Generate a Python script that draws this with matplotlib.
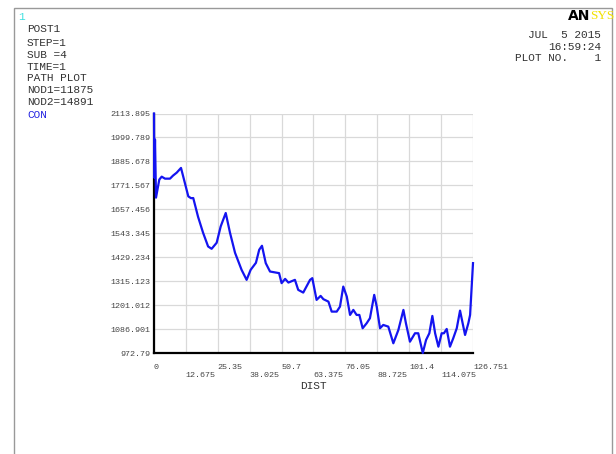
import matplotlib
matplotlib.use("Agg")
import matplotlib.pyplot as plt
import numpy as np

# path plot values (DIST, CON)
dist = [0.0, 0.12, 0.4, 0.8, 2.1, 3.06, 4.37, 6.36, 7.55, 9.02, 10.73, 11.92,
        13.63, 14.7, 15.6, 17.5, 19.5, 21.5, 22.9, 24.9, 26.5, 28.5, 30.2, 32.2,
        34.8, 35.8, 36.8, 38.4, 40.5, 41.8, 42.9, 44.4, 46.1, 49.7, 50.7, 52.1,
        53.4, 56.0, 57.3, 59.3, 62.0, 62.9, 64.6, 66.2, 67.3, 69.3, 70.6, 72.6,
        73.9, 75.2, 76.6, 77.9, 79.2, 80.5, 81.6, 82.9, 84.5, 85.8, 87.5, 88.5,
        89.8, 91.1, 93.1, 95.1, 97.1, 99.1, 100.1, 101.7, 103.7, 105.0, 106.8,
        108.1, 109.4, 110.6, 111.7, 113.0, 114.3, 115.2, 116.3, 117.6, 118.9,
        120.3, 121.6, 123.6, 124.9, 125.6, 126.751]
con = [2113.9, 1808, 1990, 1713, 1799, 1813, 1803.5, 1803.5, 1817.9, 1832,
       1854.6, 1799, 1719, 1710.5, 1711, 1622, 1545.7, 1480.3, 1469.3, 1498,
       1575.8, 1639.8, 1545.7, 1450.2, 1369, 1345.2, 1321.3, 1369, 1402.5,
       1464.6, 1483.7, 1401, 1361, 1353.3, 1305.6, 1326, 1308.4, 1321.3, 1273.6,
       1260.7, 1321.3, 1329.4, 1225.8, 1244.9, 1229.2, 1217.7, 1170, 1170,
       1193.8, 1289.3, 1241.6, 1154.2, 1178.1, 1154.2, 1154.2, 1090.7, 1114.6,
       1138.5, 1249.7, 1193.8, 1090.7, 1106.5, 1098.4, 1019.1, 1082.6, 1178.1,
       1114.6, 1026.7, 1066.8, 1066.8, 972.79, 1034.9, 1066.8, 1149.4, 1066.8,
       1002.9, 1066.8, 1066.8, 1087.4, 1002.9, 1043, 1090.7, 1174.7, 1058.7,
       1114.6, 1154.2, 1401]

xticks = [0, 12.675, 25.35, 38.025, 50.7, 63.375, 76.05, 88.725, 101.4, 114.075, 126.751]
xtick_labels = ["0", "12.675", "25.35", "38.025", "50.7", "63.375", "76.05",
                "88.725", "101.4", "114.075", "126.751"]
yticks = [972.79, 1086.901, 1201.012, 1315.123, 1429.234, 1543.345, 1657.456,
          1771.567, 1885.678, 1999.789, 2113.895]
ytick_labels = ["972.79", "1086.901", "1201.012", "1315.123", "1429.234", "1543.345",
                "1657.456", "1771.567", "1885.678", "1999.789", "2113.895"]

header_left = ["POST1", "STEP=1", "SUB =4", "TIME=1", "PATH PLOT",
               "NOD1=11875", "NOD2=14891"]
header_right = ["JUL  5 2015", "16:59:24", "PLOT NO.    1"]

W, H = 616, 454
mono = "Liberation Mono"
txt = "#333333"

fig = plt.figure(figsize=(W / 100, H / 100), dpi=100)
fig.patch.set_facecolor("white")

def px(x, y):
    return x / W, 1 - y / H

# outer frame
fig.add_artist(plt.Rectangle(px(13.5, 460), 598.5 / W, 452 / H, fill=False,
                             edgecolor="#999999", linewidth=1.0,
                             transform=fig.transFigure))

ax = fig.add_axes([154 / W, 1 - 353 / H, 319 / W, 239.5 / H])
ax.plot(dist, con, color="#1414f0", linewidth=1.6, zorder=5, clip_on=False)
ax.set_xlim(0, 126.751)
ax.set_ylim(972.79, 2113.895)

# alternate x labels onto two rows
xl = [lab if i % 2 == 0 else "\n" + lab for i, lab in enumerate(xtick_labels)]
ax.set_xticks(xticks)
ax.set_xticklabels(xl, family=mono, fontsize=6, color="#444444", ha="left",
                   va="top", linespacing=1.1)
ax.set_yticks(yticks)
ax.set_yticklabels(ytick_labels, family=mono, fontsize=6, color="#444444")
ax.tick_params(axis="x", length=0, pad=8)
ax.tick_params(axis="y", length=0, pad=2.5)
ax.grid(True, color="#d9d9d9", linewidth=0.9)
ax.set_axisbelow(True)
for s in ["top", "right"]:
    ax.spines[s].set_visible(False)
for s in ["left", "bottom"]:
    ax.spines[s].set_linewidth(1.6)
    ax.spines[s].set_color("black")
    ax.spines[s].set_zorder(4)
ax.set_xlabel("DIST", family=mono, fontsize=8, color=txt, labelpad=2)

# header text
fig.text(*px(18, 17), "1", color="#40e0e0", family=mono, fontsize=8, va="center")
ys = [29, 43, 55, 66.5, 78, 90, 102]
for y, line in zip(ys, header_left):
    fig.text(*px(27, y), line, color=txt, family=mono, fontsize=8, va="center")
fig.text(*px(27, 115), "CON", color="#2020e0", family=mono, fontsize=8, va="center")

fig.text(*px(590, 16), "AN", color="black", family="DejaVu Sans", weight="heavy",
         fontsize=10, ha="right", va="center")
fig.text(*px(590, 16), "SYS", color="#f2e200", family="Liberation Serif",
         fontsize=9.5, ha="left", va="center")
for i, line in enumerate(header_right):
    fig.text(*px(601, 35 + 11.5 * i), line, color=txt, family=mono, fontsize=8,
             ha="right", va="center")

fig.savefig("out.png", dpi=100)
